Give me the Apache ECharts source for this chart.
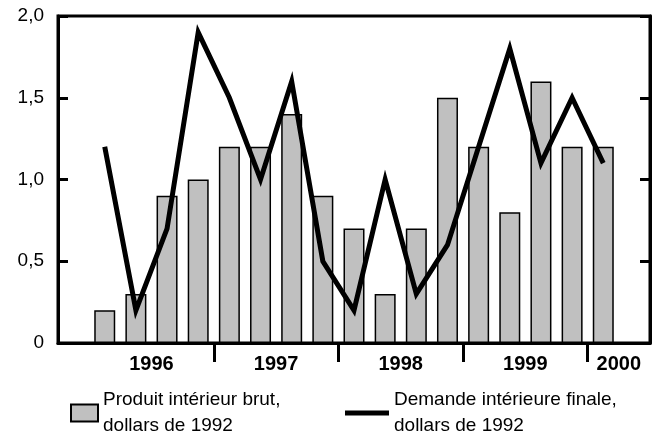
<!DOCTYPE html>
<html>
<head>
<meta charset="utf-8">
<script src="https://cdn.jsdelivr.net/npm/echarts@6/dist/echarts.min.js"></script>
<style>
  html, body { margin: 0; padding: 0; background: #fff; }
  #chart { width: 657px; height: 437px; }
</style>
</head>
<body>
<div id="chart"></div>
<script>
// trimestres 1996T1 .. 2000T1, une case vide de chaque côté
const categories = ['', '1996T1', '1996T2', '1996T3', '1996T4', '1997T1', '1997T2', '1997T3', '1997T4',
  '1998T1', '1998T2', '1998T3', '1998T4', '1999T1', '1999T2', '1999T3', '1999T4', '2000T1', ''];
const pibValues = [null, 0.2, 0.3, 0.9, 1.0, 1.2, 1.2, 1.4, 0.9, 0.7, 0.3, 0.7, 1.5, 1.2, 0.8, 1.6, 1.2, 1.2, null];
const demandeValues = [null, 1.2, 0.2, 0.7, 1.9, 1.5, 1.0, 1.6, 0.5, 0.2, 1.0, 0.3, 0.6, 1.2, 1.8, 1.1, 1.5, 1.1, null];
const yearLabels = ['1996', '1997', '1998', '1999', '2000'];
const yearCenters = [3, 7, 11, 15, 18];     // milieu de chaque année (en cases)
const yearBreaks = [5, 9, 13, 17];          // séparateurs entre années

const pibName = 'Produit intérieur brut,\ndollars de 1992';
const demandeName = 'Demande intérieure finale,\ndollars de 1992';
const font = 'Liberation Sans, Arial, sans-serif';

const chart = echarts.init(document.getElementById('chart'));
chart.setOption({
  animation: false,
  textStyle: { fontFamily: font },
  grid: { left: 58, right: 7, top: 16, bottom: 94, show: true, borderColor: '#000', borderWidth: 3 },
  legend: [{
    left: 65, top: 382, icon: 'rect', itemWidth: 27, itemHeight: 17,
    textStyle: { fontSize: 19, lineHeight: 26, color: '#000', fontFamily: font },
    data: [{ name: pibName, itemStyle: { color: '#c0c0c0', borderColor: '#000', borderWidth: 2 } }]
  }, {
    left: 340, top: 382, icon: 'rect', itemWidth: 44, itemHeight: 5,
    textStyle: { fontSize: 19, lineHeight: 26, color: '#000', fontFamily: font },
    data: [{ name: demandeName, itemStyle: { color: '#000', borderWidth: 0 } }]
  }],
  xAxis: [{
    type: 'category', data: categories,
    axisLine: { lineStyle: { color: '#000', width: 3 } },
    axisTick: { show: false }, axisLabel: { show: false }
  }, {
    type: 'value', min: 0, max: categories.length, position: 'bottom',
    axisLine: { show: false }, splitLine: { show: false },
    axisTick: { show: true, customValues: yearBreaks, length: 19, lineStyle: { color: '#000', width: 3 } },
    axisLabel: {
      customValues: yearCenters, margin: 11, fontSize: 20, fontWeight: 'bold', color: '#000', fontFamily: font,
      formatter: v => yearLabels[yearCenters.indexOf(v)]
    }
  }],
  yAxis: [{
    type: 'value', min: 0, max: 2, interval: 0.5,
    axisLine: { show: true, lineStyle: { color: '#000', width: 3 } },
    axisTick: { show: true, inside: true, length: 10, lineStyle: { color: '#000', width: 3 } },
    splitLine: { show: false },
    axisLabel: {
      margin: 14, fontSize: 19, color: '#000', fontFamily: font, padding: [5, 0, 0, 0],
      formatter: v => v === 0 ? '0' : v.toFixed(1).replace('.', ',')
    }
  }, {
    type: 'value', min: 0, max: 2, interval: 0.5, position: 'right',
    axisLine: { show: true, lineStyle: { color: '#000', width: 3 } },
    axisTick: { show: true, inside: true, length: 10, lineStyle: { color: '#000', width: 3 } },
    splitLine: { show: false }, axisLabel: { show: false }
  }],
  series: [{
    name: pibName, type: 'bar', data: pibValues, barWidth: 21,
    itemStyle: { color: '#c0c0c0', borderColor: '#000', borderWidth: 1.5 }
  }, {
    name: demandeName, type: 'line', data: demandeValues, showSymbol: false, symbol: 'none',
    itemStyle: { color: '#000' },
    lineStyle: { color: '#000', width: 5, join: 'miter' }
  }]
});
</script>
</body>
</html>
